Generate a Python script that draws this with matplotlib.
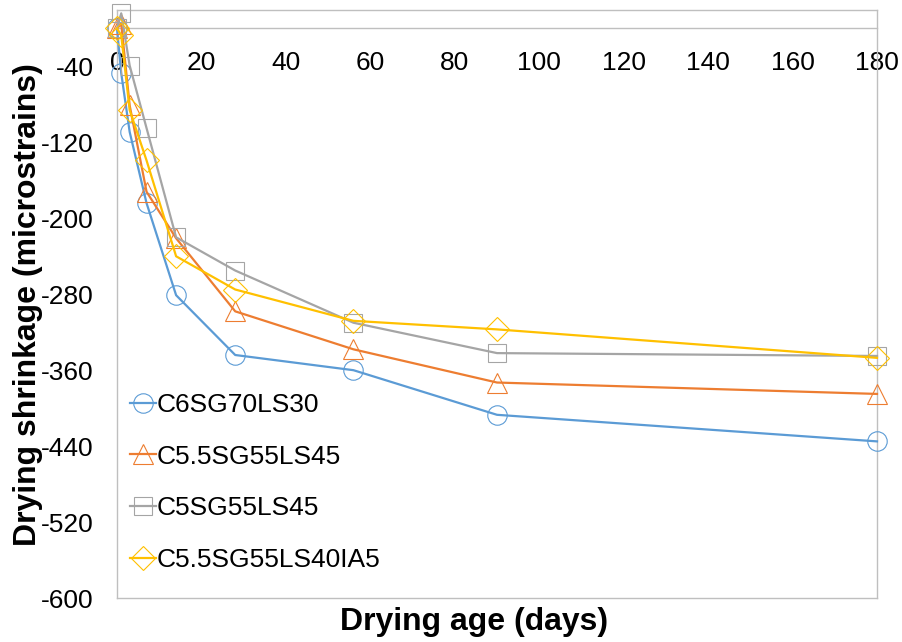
import matplotlib
matplotlib.use("Agg")
import matplotlib.pyplot as plt

plt.rcParams['font.family'] = ['Liberation Sans', 'DejaVu Sans']
plt.rcParams['axes.unicode_minus'] = False

# drying age (days)
days = [0, 1, 3, 7, 14, 28, 56, 90, 180]

# drying shrinkage (microstrains)
c6sg70ls30 = [0, -47, -109, -184, -281, -344, -360, -407, -435]
c55sg55ls45 = [0, 5, -81, -172, -221, -298, -338, -373, -385]
c5sg55ls45 = [0, 16, -39, -105, -220, -255, -310, -342, -345]
c55sg55ls40ia5 = [0, -7, -86, -139, -240, -275, -308, -317, -347]

labels = ['C6SG70LS30', 'C5.5SG55LS45', 'C5SG55LS45', 'C5.5SG55LS40IA5']
colors = ['#5B9BD5', '#ED7D31', '#A5A5A5', '#FFC000']
markers = ['o', '^', 's', 'D']
msizes = [14, 15, 13.5, 12]

xticks = list(range(0, 181, 20))
yticks = list(range(-600, 0, 80))

fig = plt.figure(figsize=(9.02, 6.42), dpi=100)
ax = fig.add_axes([117/902, 1-598/642, 760/902, 588.5/642])

series = [c6sg70ls30, c55sg55ls45, c5sg55ls45, c55sg55ls40ia5]
for vals, lab, col, mk, ms in zip(series, labels, colors, markers, msizes):
    ax.plot(days, vals, color=col, lw=1.6, marker=mk, ms=ms,
            mfc='none', mec=col, mew=0.8, label=lab, clip_on=False, zorder=3)

ax.set_xlim(0, 180)
ax.set_ylim(-600, 20)
ax.set_xticks(xticks)
ax.set_yticks(yticks)
ax.tick_params(axis='both', length=0, labelsize=19)
ax.tick_params(axis='x', pad=16)
ax.tick_params(axis='y', pad=17)

grey = '#BFBFBF'
ax.spines['bottom'].set_position(('data', 0))
for s in ax.spines.values():
    s.set_color(grey)
    s.set_linewidth(1.0)
ax.axhline(-600, color=grey, lw=1.0, clip_on=False, zorder=1)

fig.text(28/902, 1-305/642, 'Drying shrinkage (microstrains)', rotation=90,
         ha='center', va='center', fontsize=23, fontweight='bold')
fig.text(474/902, 1-622/642, 'Drying age (days)', ha='center', va='center',
         fontsize=23, fontweight='bold')

ax.legend(loc='upper left', bbox_to_anchor=(130/902, 1-393/642),
          bbox_transform=fig.transFigure, frameon=False, fontsize=19,
          handlelength=1.0, handletextpad=0.0, labelspacing=1.05,
          borderaxespad=0, borderpad=0)

fig.savefig('out.png', dpi=100)
